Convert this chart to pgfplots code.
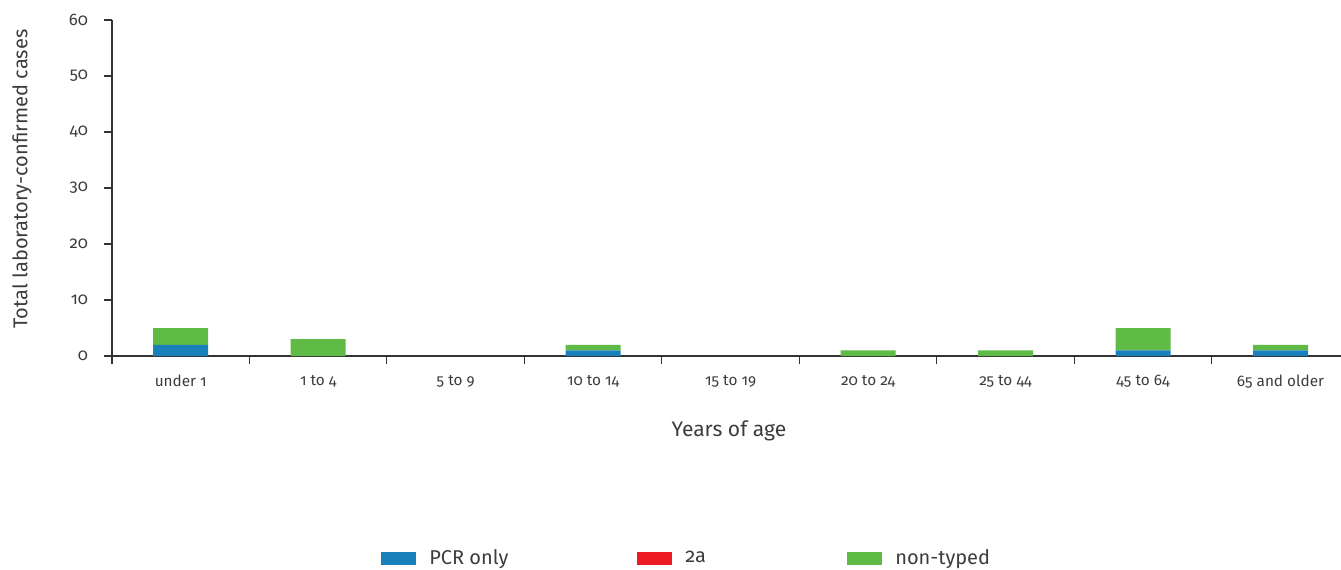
\documentclass[border=0pt]{standalone}
\usepackage{pgfplots}
\pgfplotsset{compat=1.18}
\usepackage{fontspec}
\setmainfont{Fira Sans}[Numbers=OldStyle]
\definecolor{pcr}{HTML}{1A80BB}
\definecolor{twoa}{HTML}{ED1C24}
\definecolor{nont}{HTML}{5FBB46}
\definecolor{txt}{HTML}{3C3C3C}
\definecolor{axc}{HTML}{333333}
\begin{document}
\begin{tikzpicture}
\useasboundingbox (-84pt,-159.75pt) rectangle (921.75pt,267pt);
\begin{axis}[
  at={(0,0)}, anchor=south west,
  scale only axis, width=921.75pt, height=252pt,
  xmin=-0.5, xmax=8.44, ymin=0, ymax=60,
  ybar stacked, bar width=41.25pt,
  axis x line*=bottom, axis y line*=left,
  axis line style={draw=axc, line width=0.8pt, -},
  tick align=outside, major tick length=0pt, minor tick length=6pt,
  minor tick style={draw=axc, line width=0.8pt},
  major tick style={draw=none},
  ytick={0,10,...,60},
  minor ytick={0,10,...,60},
  xtick={0,1,2,3,4,5,6,7,8},
  xticklabels={under 1,1 to 4,5 to 9,10 to 14,15 to 19,20 to 24,25 to 44,45 to 64,65 and older},
  minor xtick={-0.5,0.5,...,7.5},
  /pgf/number format/assume math mode=true,
  tick label style={font=\fontsize{11.5}{13}\selectfont, text=txt},
  xticklabel style={yshift=-11pt},
  yticklabel style={xshift=-14.5pt, font=\fontsize{12.5}{14}\selectfont},
  xlabel={Years of age},
  ylabel={Total laboratory-confirmed cases},
  label style={font=\fontsize{15.8}{18}\selectfont, text=txt},
  xlabel style={at={(axis description cs:0.502,0)}, anchor=center, yshift=-56.25pt},
  ylabel style={at={(axis description cs:-0.0733,0.527)}, anchor=center, font=\fontsize{15}{18}\selectfont},
  legend style={at={(axis description cs:0.2189,0)}, anchor=west, yshift=-151.5pt,
    draw=none, fill=none, inner sep=0pt, font=\fontsize{15}{17}\selectfont, text=txt,
    nodes={inner sep=0pt},
    /tikz/every odd column/.append style={column sep=9.75pt}},
  legend columns=3,
  legend image code/.code={\fill[#1] (0pt,-4.875pt) rectangle (26.25pt,4.875pt);},
]
\addplot[fill=pcr, draw=none] coordinates {(0,2) (1,0) (2,0) (3,1) (4,0) (5,0) (6,0) (7,1) (8,1)};
\addlegendentry{\makebox[156pt][l]{PCR only}}
\addplot[fill=twoa, draw=none] coordinates {(0,0) (1,0) (2,0) (3,0) (4,0) (5,0) (6,0) (7,0) (8,0)};
\addlegendentry{\makebox[121.5pt][l]{2a}}
\addplot[fill=nont, draw=none] coordinates {(0,3) (1,3) (2,0) (3,1) (4,0) (5,1) (6,1) (7,4) (8,1)};
\addlegendentry{non-typed}
\end{axis}
\end{tikzpicture}
\end{document}
